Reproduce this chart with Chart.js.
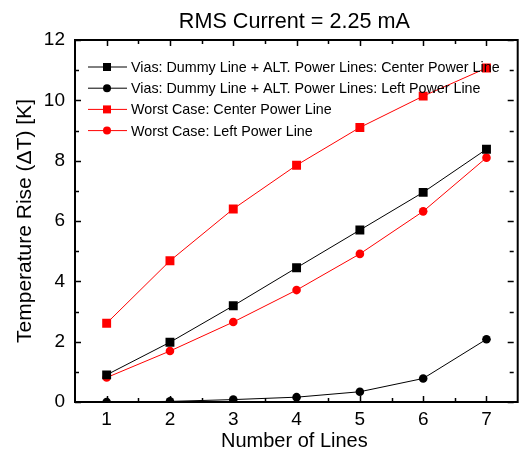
<!DOCTYPE html>
<html>
<head>
<meta charset="utf-8">
<script src="https://cdn.jsdelivr.net/npm/chart.js@4"></script>
<style>
  html, body { margin: 0; padding: 0; background: #fff; }
  #wrap { width: 520px; height: 453px; }
</style>
</head>
<body>
<div id="wrap"><canvas id="chart"></canvas></div>
<script>
const lineCounts = [1, 2, 3, 4, 5, 6, 7];
const viasCenter = [0.9, 1.98, 3.19, 4.45, 5.7, 6.95, 8.38];
const viasLeft = [0.0, 0.02, 0.08, 0.16, 0.34, 0.78, 2.08];
const worstCenter = [2.61, 4.68, 6.4, 7.85, 9.1, 10.14, 11.07];
const worstLeft = [0.81, 1.69, 2.65, 3.71, 4.91, 6.32, 8.1];
const seriesNames = [
  "Vias: Dummy Line + ALT. Power Lines: Center Power Line",
  "Vias: Dummy Line + ALT. Power Lines: Left Power Line",
  "Worst Case: Center Power Line",
  "Worst Case: Left Power Line",
];
const chartTitle = "RMS Current = 2.25 mA";
const xTitle = "Number of Lines";
const yTitle = "Temperature Rise (\u0394T) [K]";

const FONT = "'Liberation Sans', Arial, sans-serif";
const BLACK = "#000000";
const RED = "#ff0000";

function series(values, label, color, shape) {
  return {
    label: label,
    data: lineCounts.map((x, i) => ({ x: x, y: values[i] })),
    borderColor: color,
    backgroundColor: color,
    borderWidth: 1,
    pointStyle: shape,
    pointRadius: shape === "rect" ? 6.3 : 4.3,
    pointBorderWidth: 0,
    pointBackgroundColor: color,
    tension: 0,
  };
}

// title, frame with inward ticks, and origin-style legend
const framePlugin = {
  id: "frame",
  afterDatasetsDraw(chart) {
    const { ctx, chartArea: a, scales } = chart;
    const x = scales.x;
    const y = scales.y;
    ctx.save();
    ctx.strokeStyle = BLACK;
    ctx.lineWidth = 2;
    ctx.strokeRect(a.left, a.top, a.right - a.left + 4, a.bottom - a.top);

    ctx.lineWidth = 1.5;
    ctx.beginPath();
    for (let v = 1; v <= 7; v += 0.5) {
      const px = Math.round(x.getPixelForValue(v)) + 0.5;
      const len = Number.isInteger(v) ? 6 : 4;
      ctx.moveTo(px, a.bottom);
      ctx.lineTo(px, a.bottom - len);
      ctx.moveTo(px, a.top);
      ctx.lineTo(px, a.top + len);
    }
    for (let v = 0; v <= 12; v += 1) {
      const py = Math.round(y.getPixelForValue(v)) + 0.5;
      const len = v % 2 === 0 ? 6 : 4;
      ctx.moveTo(a.left, py);
      ctx.lineTo(a.left + len, py);
      ctx.moveTo(a.right, py);
      ctx.lineTo(a.right - len, py);
    }
    ctx.stroke();

    // legend
    ctx.font = "14.3px " + FONT;
    ctx.textBaseline = "middle";
    ctx.textAlign = "left";
    chart.data.datasets.forEach((ds, i) => {
      const ry = 67 + i * 21.2;
      ctx.strokeStyle = ds.borderColor;
      ctx.lineWidth = 1;
      ctx.beginPath();
      ctx.moveTo(88, ry);
      ctx.lineTo(127, ry);
      ctx.stroke();
      ctx.fillStyle = ds.borderColor;
      ctx.beginPath();
      if (ds.pointStyle === "rect") {
        ctx.rect(103, ry - 4, 8, 8);
      } else {
        ctx.arc(107, ry, 4, 0, Math.PI * 2);
      }
      ctx.fill();
      ctx.fillStyle = BLACK;
      ctx.fillText(ds.label, 131, ry + 1);
    });

    // title
    ctx.font = "21.6px " + FONT;
    ctx.textAlign = "center";
    ctx.textBaseline = "alphabetic";
    ctx.fillText(chartTitle, (a.left + a.right) / 2, 28);
    ctx.restore();
  },
};

new Chart(document.getElementById("chart"), {
  type: "line",
  data: {
    datasets: [
      series(viasCenter, seriesNames[0], BLACK, "rect"),
      series(viasLeft, seriesNames[1], BLACK, "circle"),
      series(worstCenter, seriesNames[2], RED, "rect"),
      series(worstLeft, seriesNames[3], RED, "circle"),
    ],
  },
  options: {
    responsive: true,
    maintainAspectRatio: false,
    animation: false,
    layout: {
      padding: { top: 40, right: 0, bottom: 0, left: 0 },
    },
    scales: {
      x: {
        type: "linear",
        min: 0.5,
        max: 7.43,
        afterFit: (scale) => {
          scale.height = 51;
        },
        afterBuildTicks: (scale) => {
          scale.ticks = lineCounts.map((v) => ({ value: v }));
        },
        grid: { display: false, tickLength: 0 },
        border: { display: false },
        ticks: {
          color: BLACK,
          padding: 6,
          font: { family: FONT, size: 19 },
        },
        title: {
          display: true,
          text: xTitle,
          color: BLACK,
          padding: { top: 0, bottom: 0 },
          font: { family: FONT, size: 20 },
        },
      },
      y: {
        min: 0,
        max: 12,
        afterFit: (scale) => {
          scale.width = 75;
        },
        grid: { display: false, tickLength: 0 },
        border: { display: false },
        ticks: {
          stepSize: 2,
          color: BLACK,
          padding: 10,
          font: { family: FONT, size: 19 },
        },
        title: {
          display: true,
          text: yTitle,
          color: BLACK,
          padding: { top: 13, bottom: 0 },
          font: { family: FONT, size: 21 },
        },
      },
    },
    plugins: {
      legend: { display: false },
      tooltip: { enabled: false },
    },
  },
  plugins: [framePlugin],
});
</script>
</body>
</html>
